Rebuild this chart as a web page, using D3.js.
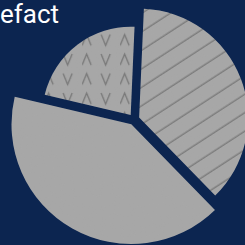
<!DOCTYPE html>
<html>
<head>
<meta charset="utf-8">
<script src="https://cdn.jsdelivr.net/npm/d3@7"></script>
<style>
  html, body { margin: 0; padding: 0; background: #0c2550; overflow: hidden; }
  svg { display: block; }
</style>
</head>
<body>
<div id="chart"></div>
<script>
// slices in drawing order (clockwise from the top)
const categories = ["Hatched", "Solid", "Chevron"];
const shares = [37, 41, 22];
// second measure, drives slice radius
const scores = [90, 99, 73];
const title = "efact";

const width = 245, height = 245;
const cx = 134, cy = 119.5;
const explode = 5.5;

const svg = d3.select("#chart").append("svg")
    .attr("width", width)
    .attr("height", height);

svg.append("rect")
    .attr("width", width)
    .attr("height", height)
    .attr("fill", "#0c2550");

const defs = svg.append("defs");

// diagonal hatch
const hatch = defs.append("pattern")
    .attr("id", "hatch")
    .attr("patternUnits", "userSpaceOnUse")
    .attr("width", 40)
    .attr("height", 15.5)
    .attr("patternTransform", "rotate(-33)");
hatch.append("rect").attr("width", 40).attr("height", 15.5).attr("fill", "#a6a6a6");
hatch.append("line")
    .attr("x1", 0).attr("x2", 40)
    .attr("y1", 7).attr("y2", 7)
    .attr("stroke", "#787878")
    .attr("stroke-width", 1.4);

// ^ v pattern
const chev = defs.append("pattern")
    .attr("id", "chev")
    .attr("patternUnits", "userSpaceOnUse")
    .attr("x", 27.5).attr("y", 14)
    .attr("width", 38)
    .attr("height", 19.5);
chev.append("rect").attr("width", 38).attr("height", 19.5).attr("fill", "#a6a6a6");
chev.append("path")
    .attr("d", "M0,14 L4.5,3 L9,14 M19,3 L23.5,14 L28,3")
    .attr("fill", "none")
    .attr("stroke", "#727272")
    .attr("stroke-width", 1.3);

// light grain over the grey
const grain = defs.append("filter").attr("id", "grain");
grain.append("feTurbulence")
    .attr("type", "fractalNoise")
    .attr("baseFrequency", 0.9)
    .attr("numOctaves", 1)
    .attr("result", "noise");
grain.append("feColorMatrix")
    .attr("in", "noise")
    .attr("type", "matrix")
    .attr("values", "0 0 0 0 0.5  0 0 0 0 0.5  0 0 0 0 0.5  0 0 0 0.12 0")
    .attr("result", "tint");
grain.append("feComposite").attr("in", "tint").attr("in2", "SourceGraphic").attr("operator", "in").attr("result", "t2");
grain.append("feMerge").selectAll("feMergeNode")
    .data(["SourceGraphic", "t2"]).join("feMergeNode").attr("in", d => d);

const fills = {Hatched: "url(#hatch)", Solid: "#a6a6a6", Chevron: "url(#chev)"};

const data = categories.map((c, i) => ({name: c, share: shares[i], score: scores[i]}));

const start = 2.5 * Math.PI / 180;
const pie = d3.pie()
    .sort(null)
    .value(d => d.share)
    .startAngle(start)
    .endAngle(start + 2 * Math.PI);

const rScale = d3.scaleLinear().domain([0, 100]).range([0, 121]);

const arc = d3.arc()
    .innerRadius(0)
    .outerRadius(d => rScale(d.data.score));

const g = svg.append("g").attr("transform", `translate(${cx},${cy})`);

g.selectAll("path.slice")
    .data(pie(data))
    .join("path")
    .attr("class", "slice")
    .attr("d", arc)
    .attr("fill", d => fills[d.data.name])
    .attr("filter", "url(#grain)")
    .attr("transform", d => {
        const mid = (d.startAngle + d.endAngle) / 2;
        return `translate(${Math.sin(mid) * explode},${-Math.cos(mid) * explode})`;
    });

svg.append("text")
    .attr("x", 0)
    .attr("y", 23)
    .attr("fill", "#ffffff")
    .attr("font-family", "Roboto, sans-serif")
    .attr("font-size", 26)
    .text(title);
</script>
</body>
</html>
